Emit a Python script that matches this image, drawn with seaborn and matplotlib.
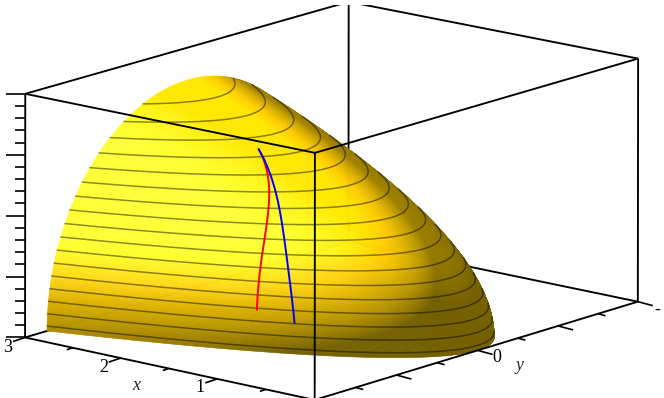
"""
Parabolic solid x = y^2 + z^2 in a perspective box, drawn on a flat axes.
"""
import numpy as np
import pandas as pd
import seaborn as sns
import matplotlib
matplotlib.use('Agg')
import matplotlib.pyplot as plt
from matplotlib.collections import PolyCollection, LineCollection
from matplotlib.patches import Rectangle

# box corners and axis ticks as they sit in the picture: (x, y, z) -> (u, v)
CAMERA_XYZ = [(3, -2, 0), (3, -2, 2), (0, -2, 2), (0, -2, 0), (0, 2, 0), (0, 2, 2),
              (3, 2, 2), (3, 2, 0), (2, -2, 0), (1, -2, 0), (0, -1, 0), (0, 0, 0), (0, 1, 0)]
CAMERA_UV = [(25, 338), (25, 95), (315, 152), (316, 400), (638, 303), (638, 58),
             (349, 2), (349, 240), (120, 358), (217, 378), (397, 375), (477, 350), (557, 327)]

X_MAJOR = [0, 1, 2, 3]
X_MINOR = [0.5, 1.5, 2.5]
Y_MAJOR = [-2, -1, 0, 1, 2]
Y_MINOR = [-1.5, -0.5, 0.5, 1.5]
Z_MAJOR = [0, 0.5, 1, 1.5, 2]
Z_MINOR = [0.1, 0.2, 0.3, 0.4, 0.6, 0.7, 0.8, 0.9, 1.1, 1.2, 1.3, 1.4, 1.6, 1.7, 1.8, 1.9]

LEVELS = [0.04, 0.14, 0.24, 0.34, 0.44, 0.54, 0.64, 0.74, 0.84, 0.94,
          1.04, 1.14, 1.24, 1.34, 1.44, 1.54, 1.64]
X_END = 3

BLUE_Y = [-0.312, -0.441, -0.583, -0.701, -0.813, -0.912, -0.995]
BLUE_Z = [1.38, 1.257, 1.118, 0.973, 0.796, 0.59, 0.247]
RED_Y = [-0.312, -0.395, -0.551, -0.716, -0.864, -0.98, -1.111]
RED_Z = [1.38, 1.305, 1.179, 1.025, 0.846, 0.674, 0.328]


def fit_camera(xyz, uv):
    rows = []
    for (x, y, z), (u, v) in zip(xyz, uv):
        rows.append([x, y, z, 1, 0, 0, 0, 0, -u * x, -u * y, -u * z, -u])
        rows.append([0, 0, 0, 0, x, y, z, 1, -v * x, -v * y, -v * z, -v])
    _, _, vt = np.linalg.svd(np.array(rows, dtype=float))
    return vt[-1].reshape(3, 4)


P = fit_camera(CAMERA_XYZ, CAMERA_UV)
CAM = np.linalg.svd(P)[2][-1]
CAM = CAM[:3] / CAM[3]


def project(x, y, z):
    x, y, z = np.asarray(x, float), np.asarray(y, float), np.asarray(z, float)
    w = P[2, 0] * x + P[2, 1] * y + P[2, 2] * z + P[2, 3]
    u = (P[0, 0] * x + P[0, 1] * y + P[0, 2] * z + P[0, 3]) / w
    v = (P[1, 0] * x + P[1, 1] * y + P[1, 2] * z + P[1, 3]) / w
    return u, v


def facing(x, y, z):
    return (-(CAM[0] - x) + 2 * y * (CAM[1] - y) + 2 * z * (CAM[2] - z)) > 0


def shade(x, y, z):
    n = np.stack([-np.ones_like(x), 2 * y, 2 * z], axis=-1)
    n /= np.linalg.norm(n, axis=-1, keepdims=True)
    light = np.array([0.45, -0.55, 0.70])
    side = np.array([0.3, -0.8, 0.5])
    s = 2.2 * np.clip(n @ (light / np.linalg.norm(light)) - 0.31, 0, None) \
        + 0.6 * np.clip(n[..., 2] - 0.6, 0, None)
    # pale yellow only on the side facing the second light
    pale = np.clip((n @ (side / np.linalg.norm(side)) - 0.55) / 0.2, 0, 1) * np.clip((s - 0.4) / 0.35, 0, 1)
    red = 0.46 + s
    green = 0.38 + 0.78 * np.minimum(s, 0.68) + 0.11 * pale
    blue = 0.22 * pale
    return np.clip(np.stack([red, green, blue], axis=-1), 0, 1)


sns.set_theme(style='white')
plt.rcParams['font.family'] = ['Liberation Serif', 'DejaVu Serif']
fig = plt.figure(figsize=(6.64, 3.98), dpi=100)
ax = fig.add_axes([0, 0, 1, 1])
ax.set_xlim(0, 664)
ax.set_ylim(398, 0)
ax.axis('off')
clip = Rectangle((0, 5), 664, 393, transform=ax.transData)


def edge(a, b, zorder):
    u, v = project(*zip(a, b))
    line, = ax.plot(u, v, color='black', lw=1.35, zorder=zorder, solid_capstyle='butt')
    line.set_clip_path(clip)


# hidden back edges first
edge((3, -2, 0), (3, 2, 0), 1)
edge((3, 2, 0), (0, 2, 0), 1)
edge((3, 2, 0), (3, 2, 2), 1)

# surface
r = np.linspace(0, np.sqrt(X_END), 170)
t = np.linspace(0, np.pi, 220)
R, T = np.meshgrid(r, t)
SY, SZ = R * np.cos(T), R * np.sin(T)
SX = R ** 2
U, V = project(SX, SY, SZ)
mx = (SX[:-1, :-1] + SX[1:, 1:]) / 2
my = (SY[:-1, :-1] + SY[1:, 1:]) / 2
mz = (SZ[:-1, :-1] + SZ[1:, 1:]) / 2
keep = facing(mx, my, mz)
quads = np.stack([np.stack([U[:-1, :-1], V[:-1, :-1]], -1), np.stack([U[:-1, 1:], V[:-1, 1:]], -1),
                  np.stack([U[1:, 1:], V[1:, 1:]], -1), np.stack([U[1:, :-1], V[1:, :-1]], -1)], axis=2)
cols = shade(mx, my, mz)
ax.add_collection(PolyCollection(quads[keep], facecolors=cols[keep], edgecolors=cols[keep],
                                 linewidths=0.4, zorder=2))

# level curves
frames = []
for level in LEVELS:
    half = np.sqrt(X_END - level ** 2)
    yy = np.linspace(-half, half, 300)
    xx = yy ** 2 + level ** 2
    zz = np.full_like(yy, level)
    ok = facing(xx, yy, zz)
    u, v = project(xx[ok], yy[ok], zz[ok])
    frames.append(pd.DataFrame({'u': u, 'v': v, 'level': level}))
contours = pd.concat(frames)
sns.lineplot(data=contours, x='u', y='v', units='level', estimator=None, sort=False,
             color='black', alpha=0.45, lw=1.1, ax=ax, zorder=3, legend=False)

# curves on the surface, smoothed on screen through the points
for cy, cz, colour in ((RED_Y, RED_Z, '#ff0000'), (BLUE_Y, BLUE_Z, '#0000ff')):
    cy, cz = np.array(cy), np.array(cz)
    pu, pv = project(cy ** 2 + cz ** 2, cy, cz)
    v = np.linspace(pv[0], pv[-1], 80)
    u = np.polyval(np.polyfit(pv, pu, 4), v)
    sns.lineplot(x=u, y=v, sort=False, estimator=None, color=colour,
                 lw=1.4, ax=ax, zorder=4, legend=False)

# front edges
edge((3, -2, 0), (0, -2, 0), 5)
edge((0, -2, 0), (0, 2, 0), 5)
edge((3, -2, 0), (3, -2, 2), 5)
edge((0, -2, 0), (0, -2, 2), 5)
edge((0, 2, 0), (0, 2, 2), 5)
edge((3, -2, 2), (0, -2, 2), 5)
edge((0, -2, 2), (0, 2, 2), 5)
edge((3, -2, 2), (3, 2, 2), 5)
edge((3, 2, 2), (0, 2, 2), 5)

# ticks
segs = []
for vals, length in ((X_MAJOR, 1.0), (X_MINOR, 0.5)):
    for val in vals:
        u, v = project(val, -2, 0)
        segs.append([(u, v), (u - 12 * length, v + 4 * length)])
for vals, length in ((Y_MAJOR, 1.0), (Y_MINOR, 0.5)):
    for val in vals:
        u, v = project(0, val, 0)
        segs.append([(u, v), (u + 15 * length, v + 4 * length)])
for vals, length in ((Z_MAJOR, 19), (Z_MINOR, 10)):
    for val in vals:
        u, v = project(3, -2, val)
        segs.append([(u, v), (u - length, v)])
ax.add_collection(LineCollection(segs, colors='black', linewidths=1.2, zorder=5))

for lab, (u, v) in {'3': (8, 348), '2': (104, 368), '1': (200, 387), '0': (497, 358), '-': (657, 310)}.items():
    ax.text(u, v, lab, fontsize=13, ha='center', va='center', color='black')
ax.text(136, 385, 'x', fontsize=13, style='italic', ha='center', va='center')
ax.text(520, 366, 'y', fontsize=13, style='italic', ha='center', va='center')

fig.savefig('out.png', dpi=100)
